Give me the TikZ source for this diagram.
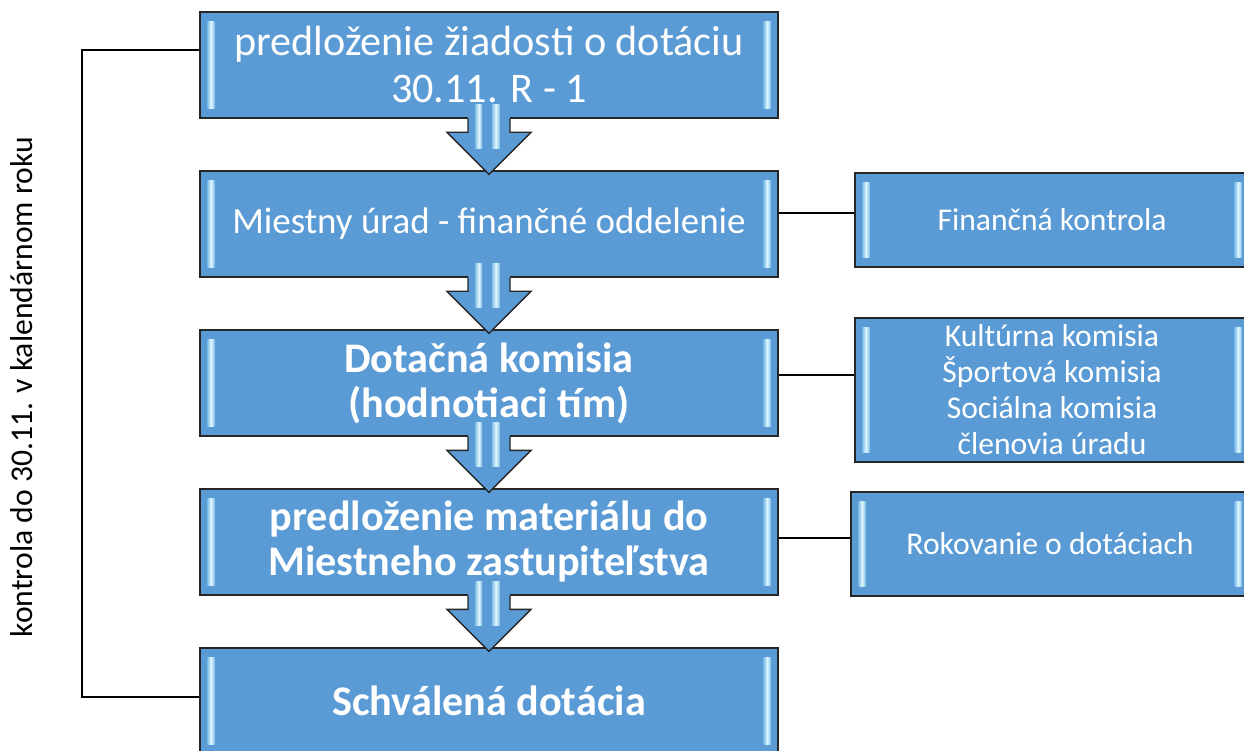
\documentclass[tikz,border=0pt]{standalone}
\usepackage{fontspec}
\setmainfont{Carlito}
\usepackage{tikz}

\definecolor{boxblue}{RGB}{91,155,213}
\definecolor{boxline}{RGB}{38,38,38}
\definecolor{bevlight}{RGB}{225,246,255}
\definecolor{bevdark}{RGB}{125,190,232}

\begin{document}
\begin{tikzpicture}[
	mainbox/.style = {draw = boxline, fill = boxblue, line width = 1pt, minimum width = 14.45cm, minimum height = 2.65cm, inner sep = 0pt, align = center, text = white},
	sidebox/.style = {draw = boxline, fill = boxblue, line width = 1pt, inner sep = 0pt, align = center, text = white, font = \fontsize{22.5}{25.6}\selectfont},
	big/.style = {font = \fontsize{30}{33.4}\selectfont},
	bigbold/.style = {font = \fontsize{30}{32}\selectfont\bfseries},
	bevel/.style = {left color = bevdark, right color = bevdark, middle color = bevlight},
	blockarrow/.style = {draw = boxline, fill = boxblue, line width = 1pt, line join = miter},
	link/.style = {draw = black, line width = 1pt}
]
	\useasboundingbox (0,0) rectangle (31.1,-18.775);
	\clip (0,0) rectangle (31.1,-18.775);

	\node [mainbox, big] (m1) at (12.225,-1.625) {predloženie žiadosti o dotáciu\\30.11. R - 1};
	\node [mainbox, font = \fontsize{26.3}{30}\selectfont] (m2) at (12.225,-5.6) {Miestny úrad - finančné oddelenie};
	\node [mainbox, bigbold] (m3) at (12.225,-9.575) {Dotačná komisia\\(hodnotiaci tím)};
	\node [mainbox, bigbold] (m4) at (12.225,-13.55) {predloženie materiálu do\\Miestneho zastupiteľstva};
	\node [mainbox, bigbold] (m5) at (12.225,-17.525) {Schválená dotácia};

	\node [sidebox, minimum width = 9.85cm, minimum height = 2.35cm] (s1) at (26.3,-5.5) {Finančná kontrola};
	\node [sidebox, minimum width = 9.85cm, minimum height = 3.6cm] (s2) at (26.3,-9.75) {Kultúrna komisia\\Športová komisia\\Sociálna komisia\\členovia úradu};
	\node [sidebox, minimum width = 9.95cm, minimum height = 2.6cm] (s3) at (26.25,-13.6) {Rokovanie o dotáciach};

	\foreach \n in {m1,m2,m3,m4,m5,s1,s2,s3} {
		\shade [bevel] ([xshift = 0.2cm, yshift = -0.25cm]\n.north west) rectangle ([xshift = 0.38cm, yshift = 0.25cm]\n.south west);
		\shade [bevel] ([xshift = -0.38cm, yshift = -0.25cm]\n.north east) rectangle ([xshift = -0.2cm, yshift = 0.25cm]\n.south east);
	}

	\foreach \a/\b in {m1/m2, m2/m3, m3/m4, m4/m5} {
		\fill [boxblue] ([xshift = -0.525cm]\a.south) rectangle ([xshift = 0.525cm, yshift = 0.4cm]\a.south);
		\draw [blockarrow] ([xshift = -0.525cm]\a.south) -- ([xshift = -0.525cm, yshift = 0.95cm]\b.north) -- ([xshift = -1.05cm, yshift = 0.95cm]\b.north) -- ([yshift = -0.1cm]\b.north) -- ([xshift = 1.05cm, yshift = 0.95cm]\b.north) -- ([xshift = 0.525cm, yshift = 0.95cm]\b.north) -- ([xshift = 0.525cm]\a.south);
		\shade [bevel] ([xshift = -0.35cm, yshift = 0.35cm]\a.south) rectangle ([xshift = -0.17cm, yshift = -0.75cm]\a.south);
		\shade [bevel] ([xshift = 0.07cm, yshift = 0.35cm]\a.south) rectangle ([xshift = 0.27cm, yshift = -0.75cm]\a.south);
	}

	\foreach \a/\b/\dy [count = \i] in {m2/s1/0.275, m3/s2/0.2, m4/s3/0.1} {
		\coordinate (c\i) at ([yshift = \dy cm]\a.east);
		\draw [link] (c\i) -- (c\i -| \b.west);
	}

	\coordinate (turn) at (2.05,0);
	\coordinate (l1) at ([yshift = 0.375cm]m1.west);
	\coordinate (l5) at ([yshift = 0.1cm]m5.west);
	\draw [link] (l1) -- (l1 -| turn) |- (l5);

	\node [rotate = 90, font = \fontsize{22.5}{27}\selectfont] (note) at (0.55,-9.675) {kontrola do 30.11. v kalendárnom roku};
\end{tikzpicture}
\end{document}
